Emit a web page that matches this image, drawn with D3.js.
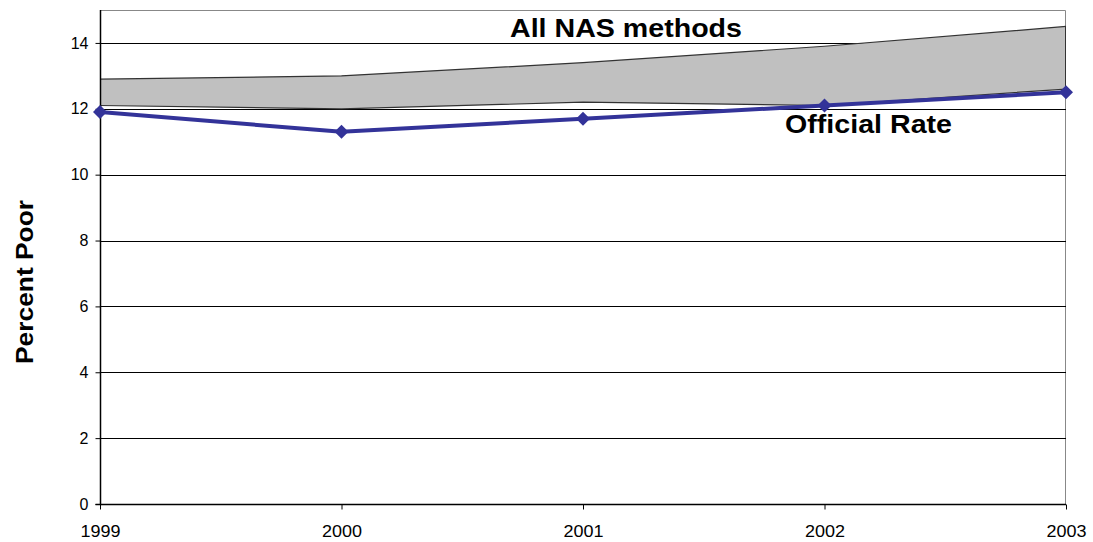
<!DOCTYPE html>
<html>
<head>
<meta charset="utf-8">
<script src="https://cdn.jsdelivr.net/npm/d3@7"></script>
<style>
  body { margin: 0; background: #fff; }
  svg { font-family: Arial, "Liberation Sans", sans-serif; }
</style>
</head>
<body>
<div id="chart"></div>
<script>
// data
var years = [1999, 2000, 2001, 2002, 2003];
var nasHigh = [12.9, 13.0, 13.4, 13.9, 14.5];
var nasLow = [12.1, 12.0, 12.2, 12.1, 12.6];
var officialRate = [11.9, 11.3, 11.7, 12.1, 12.5];
var yTicks = [0, 2, 4, 6, 8, 10, 12, 14];

var width = 1093, height = 542,
    margin = {top: 10, right: 27, bottom: 38, left: 100},
    innerWidth = width - margin.left - margin.right,
    innerHeight = height - margin.top - margin.bottom;

var svg = d3.select("#chart").append("svg")
  .attr("width", width)
  .attr("height", height);

var g = svg.append("g")
  .attr("transform", "translate(" + margin.left + "," + margin.top + ")");

var x = d3.scaleLinear().domain([1999, 2003]).range([0, innerWidth]);
var y = d3.scaleLinear().domain([0, 15]).range([innerHeight, 0]);

// frame top/right
g.append("path")
  .attr("d", "M0,0.5H" + (innerWidth - 0.5) + "V" + innerHeight)
  .attr("fill", "none")
  .attr("stroke", "#888")
  .attr("stroke-width", 1);

// gridlines
g.selectAll(".grid")
  .data(yTicks.filter(function(d){ return d > 0; }))
  .enter().append("line")
  .attr("x1", 0).attr("x2", innerWidth)
  .attr("y1", function(d){ return Math.round(y(d)) + 0.5; })
  .attr("y2", function(d){ return Math.round(y(d)) + 0.5; })
  .attr("stroke", "#000")
  .attr("stroke-width", 1);

// NAS band
var band = years.map(function(d, i){ return {year: d, lo: nasLow[i], hi: nasHigh[i]}; });
var area = d3.area()
  .x(function(d){ return x(d.year); })
  .y0(function(d){ return y(d.lo); })
  .y1(function(d){ return y(d.hi); });
g.append("path")
  .datum(band)
  .attr("d", area)
  .attr("fill", "#c0c0c0")
  .attr("stroke", "none");
g.append("path")
  .datum(band)
  .attr("d", d3.line().x(function(d){ return x(d.year); }).y(function(d){ return y(d.hi); }))
  .attr("fill", "none").attr("stroke", "#333").attr("stroke-width", 1.2);
g.append("path")
  .datum(band)
  .attr("d", d3.line().x(function(d){ return x(d.year); }).y(function(d){ return y(d.lo); }))
  .attr("fill", "none").attr("stroke", "#333").attr("stroke-width", 1.2);
g.append("line")
  .attr("x1", x(2003) - 0.5).attr("x2", x(2003) - 0.5)
  .attr("y1", y(nasHigh[4])).attr("y2", y(nasLow[4]))
  .attr("stroke", "#333").attr("stroke-width", 1);

// axes
var yAxis = d3.axisLeft(y).tickValues(yTicks).tickSize(5).tickPadding(7);
var yg = g.append("g").attr("transform", "translate(0.5,0)").call(yAxis);
yg.select(".domain").attr("d", "M-5," + (innerHeight + 0.5) + "H0V" + y(15));
var xAxis = d3.axisBottom(x).tickValues(years).tickFormat(d3.format("d")).tickSize(5).tickPadding(16);
var xg = g.append("g").attr("transform", "translate(0," + (innerHeight + 0.5) + ")").call(xAxis);
xg.select(".domain").attr("d", "M0,0H" + innerWidth);
[yg, xg].forEach(function(a){
  a.selectAll("text").attr("font-size", 16).attr("fill", "#000").attr("font-family", "Arial, 'Liberation Sans', sans-serif");
  a.selectAll("line").attr("stroke", "#000");
  a.select(".domain").attr("stroke", "#000").attr("stroke-width", 1.5);
});
xg.selectAll("text").attr("textLength", 40).attr("lengthAdjust", "spacingAndGlyphs");

// official rate
var line = d3.line()
  .x(function(d, i){ return x(years[i]); })
  .y(function(d){ return y(d); });
g.append("path")
  .datum(officialRate)
  .attr("d", line)
  .attr("fill", "none")
  .attr("stroke", "#333399")
  .attr("stroke-width", 4)
  .attr("stroke-linejoin", "round");
g.selectAll(".marker")
  .data(officialRate)
  .enter().append("path")
  .attr("d", "M0,-7L7,0L0,7L-7,0Z")
  .attr("transform", function(d, i){ return "translate(" + x(years[i]) + "," + y(d) + ")"; })
  .attr("fill", "#333399");

// labels
g.append("text")
  .attr("x", 510 - margin.left).attr("y", 27)
  .attr("font-size", 26).attr("font-weight", "bold")
  .attr("textLength", 232).attr("lengthAdjust", "spacingAndGlyphs")
  .text("All NAS methods");
g.append("text")
  .attr("x", 785 - margin.left).attr("y", 123)
  .attr("font-size", 26).attr("font-weight", "bold")
  .attr("textLength", 167).attr("lengthAdjust", "spacingAndGlyphs")
  .text("Official Rate");
svg.append("text")
  .attr("transform", "translate(33,364) rotate(-90)")
  .attr("font-size", 24).attr("font-weight", "bold")
  .attr("textLength", 164).attr("lengthAdjust", "spacingAndGlyphs")
  .text("Percent Poor");
</script>
</body>
</html>
